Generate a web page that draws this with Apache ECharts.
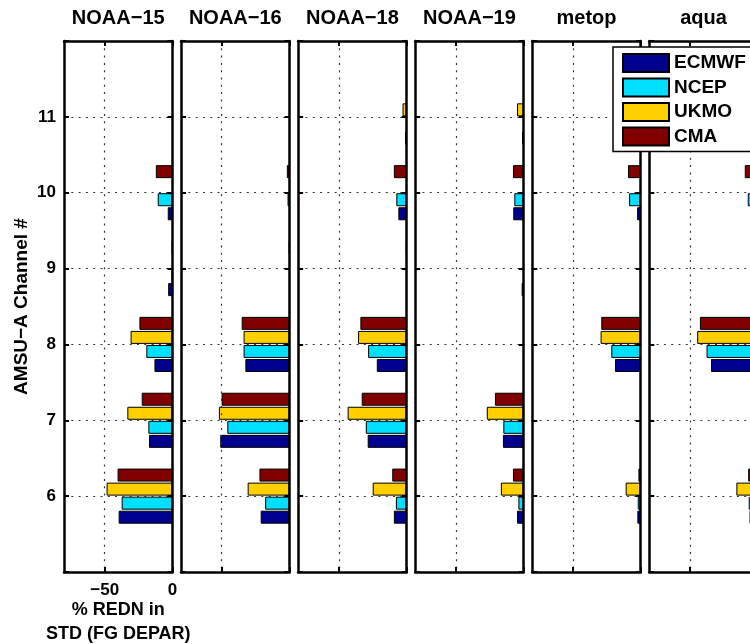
<!DOCTYPE html>
<html>
<head>
<meta charset="utf-8">
<script src="https://cdn.jsdelivr.net/npm/echarts@6/dist/echarts.min.js"></script>
<style>
  html, body { margin: 0; padding: 0; background: #fff; }
  #chart { width: 750px; height: 644px; }
</style>
</head>
<body>
<div id="chart"></div>
<script>
// Panels (one per satellite) and the AMSU-A channels shown on the y axis
const satellites = ['NOAA−15', 'NOAA−16', 'NOAA−18', 'NOAA−19', 'metop', 'aqua'];
const channels = ['6', '7', '8', '9', '10', '11'];
const axisChannels = ['5', '6', '7', '8', '9', '10', '11', '12'];
const xTicks = [-50, 0];

// NWP centres, legend order
const centres = ['ECMWF', 'NCEP', 'UKMO', 'CMA'];
const centreColors = ['#00008f', '#00dfff', '#ffcf00', '#800000'];

// % reduction in STD of FG departures; rows = satellites, columns = channels 6..11
const ecmwf = [
  [-39.7, -17.3, -13.3, -3.2, -3.5, null],
  [-21.3, -51.1, -32.6, null, null, null],
  [-9.4, -28.7, -22.0, null, -6.1, -1.2],
  [-4.9, -15.3, null, -1.5, -7.7, -1.2],
  [-2.5, null, -19.0, null, -2.7, null],
  [-6.1, null, -34.5, null, -3.0, null]
];
const ncep = [
  [-37.5, -17.8, -19.3, -0.5, -10.9, null],
  [-18.0, -45.9, -33.9, null, -1.5, null],
  [-7.9, -30.1, -28.4, null, -7.6, null],
  [-3.9, -15.0, null, null, -6.9, null],
  [-2.2, null, -21.7, null, -8.6, null],
  [-6.7, null, -37.8, null, -7.4, null]
];
const ukmo = [
  [-48.6, -33.3, -30.9, null, null, null],
  [-30.9, -52.1, -33.9, null, null, null],
  [-25.0, -43.5, -35.8, null, null, -3.0],
  [-16.8, -27.2, null, null, null, -4.9],
  [-11.1, null, -29.6, null, null, null],
  [-15.8, null, -44.7, null, null, null]
];
const cma = [
  [-40.5, -22.7, -24.4, -0.4, -12.3, null],
  [-22.2, -50.1, -35.3, -0.4, -2.0, null],
  [-10.6, -33.1, -34.1, -0.4, -9.4, null],
  [-7.9, -21.2, null, null, -7.9, null],
  [-1.7, null, -29.1, null, -9.4, null],
  [-7.1, null, -42.7, null, -9.6, null]
];
const centreValues = [ecmwf, ncep, ukmo, cma];

const FONT = '"Liberation Sans", Arial, Helvetica, sans-serif';
const PANEL_LEFT = 64, PANEL_PITCH = 117.06, PANEL_W = 108.5, PANEL_TOP = 41, PANEL_H = 531;

const boxLine = { show: true, onZero: false, lineStyle: { color: '#000', width: 2.5 } };
const dotted = { show: true, lineStyle: { color: '#333', width: 1.2, type: [2, 5.3] } };
const labelText = { color: '#000', fontSize: 17, fontWeight: 'bold', fontFamily: FONT };
const minusFmt = v => (v < 0 ? '−' + (-v) : String(v));

const grids = [], xAxes = [], yAxes = [], series = [], graphics = [];

satellites.forEach((sat, i) => {
  const left = PANEL_LEFT + PANEL_PITCH * i;
  grids.push({ left: left, top: PANEL_TOP, width: PANEL_W, height: PANEL_H,
    containLabel: false, outerBoundsMode: 'none' });

  graphics.push({
    type: 'text', x: left + PANEL_W / 2, y: 18, z: 10,
    style: { text: sat, fill: '#000', font: 'bold 20px ' + FONT, align: 'center', verticalAlign: 'middle' }
  });

  const first = i === 0;
  // bottom x axis
  xAxes.push({
    gridIndex: i, type: 'value', min: -80, max: 0, position: 'bottom', z: 3,
    axisLine: boxLine,
    axisTick: { show: true, inside: true, length: 5, customValues: xTicks, lineStyle: { color: '#000', width: 2 } },
    axisLabel: Object.assign({ show: first, customValues: xTicks, formatter: minusFmt, margin: 10 }, labelText),
    splitLine: dotted,
    name: first ? '% REDN in\nSTD (FG DEPAR)' : '',
    nameLocation: 'middle', nameGap: 26, nameMoveOverlap: false,
    nameTextStyle: { color: '#000', fontSize: 18, fontWeight: 'bold', fontFamily: FONT, lineHeight: 24 }
  });
  // top x axis (box edge with ticks)
  xAxes.push({
    gridIndex: i, type: 'value', min: -80, max: 0, position: 'top', z: 3,
    axisLine: boxLine,
    axisTick: { show: true, inside: true, length: 5, customValues: xTicks, lineStyle: { color: '#000', width: 2 } },
    axisLabel: { show: false },
    splitLine: { show: false }
  });
  // left y axis
  yAxes.push({
    gridIndex: i, type: 'category', data: axisChannels, boundaryGap: false, position: 'left', z: 3,
    axisLine: boxLine,
    axisTick: { show: true, inside: true, length: 5, interval: 0, lineStyle: { color: '#000', width: 2 } },
    axisLabel: Object.assign({ show: first, interval: 0, margin: 8,
      formatter: v => (channels.indexOf(v) >= 0 ? v : '') }, labelText),
    splitLine: Object.assign({ interval: 0 }, dotted),
    name: first ? 'AMSU−A Channel #' : '',
    nameLocation: 'middle', nameRotate: 90, nameGap: 33, nameMoveOverlap: false,
    nameTextStyle: { color: '#000', fontSize: 19, fontWeight: 'bold', fontFamily: FONT }
  });
  // right y axis (box edge with ticks)
  yAxes.push({
    gridIndex: i, type: 'category', data: axisChannels, boundaryGap: false, position: 'right', z: 3,
    axisLine: boxLine,
    axisTick: { show: true, inside: true, length: 5, interval: 0, lineStyle: { color: '#000', width: 2 } },
    axisLabel: { show: false },
    splitLine: { show: false }
  });

  // bars drawn top-to-bottom within each channel: CMA, UKMO, NCEP, ECMWF
  [3, 2, 1, 0].forEach(k => {
    const vals = centreValues[k][i];
    series.push({
      type: 'bar', name: centres[k],
      xAxisIndex: 2 * i, yAxisIndex: 2 * i,
      barWidth: 13, barGap: '8%',
      itemStyle: { color: centreColors[k], borderColor: '#000', borderWidth: 1 },
      data: [null].concat(vals, [null]),
      silent: true, animation: false
    });
  });
});

const chart = echarts.init(document.getElementById('chart'), null, { renderer: 'canvas' });
chart.setOption({
  backgroundColor: '#fff',
  animation: false,
  grid: grids,
  xAxis: xAxes,
  yAxis: yAxes,
  series: series,
  graphic: graphics,
  legend: {
    data: centres, orient: 'vertical', left: 613, top: 47, z: 20,
    icon: 'rect', itemWidth: 46, itemHeight: 18, itemGap: 4.5,
    selectedMode: false,
    backgroundColor: '#fff', borderColor: '#000', borderWidth: 1.5,
    padding: [6, 9, 5, 9],
    textStyle: { color: '#000', fontSize: 19, fontWeight: 'bold', fontFamily: FONT }
  }
});
</script>
</body>
</html>
